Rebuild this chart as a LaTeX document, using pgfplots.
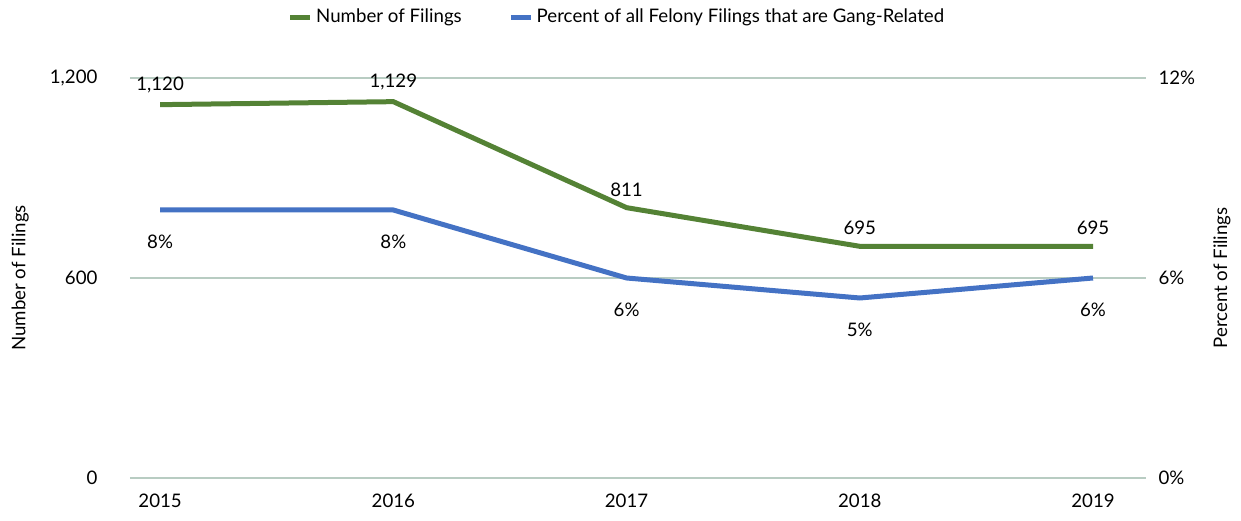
\documentclass[border=0pt]{standalone}
\usepackage{fontspec}
\setmainfont{Lato}
\usepackage{pgfplots}
\pgfplotsset{compat=1.18}

\definecolor{filgreen}{RGB}{84,130,53}
\definecolor{pctblue}{RGB}{68,114,196}
\definecolor{gridc}{RGB}{184,204,194}

\newcommand{\chartfont}{\fontsize{11.2}{13}\selectfont}

\pgfplotsset{
  common/.style={
    scale only axis, width=609.6pt, height=240pt,
    xmin=2014.871, xmax=2019.227,
    xtick={2015,2016,2017,2018,2019},
    x tick label style={/pgf/number format/1000 sep={}},
    axis line style={draw=none}, major tick length=0pt,
    tick label style={font=\chartfont},
    label style={font=\chartfont},
    /pgf/number format/assume math mode=true,
  }
}

\begin{document}
\begin{tikzpicture}
\begin{axis}[common,
  ymin=0, ymax=1200, ytick={0,600,1200},
  yticklabels={0,600,{1,200}},
  ymajorgrids, grid style={gridc, line width=1.2pt},
  yticklabel style={xshift=-16pt},
  xticklabel style={yshift=-6pt},
  ylabel={Number of Filings},
  ylabel style={at={(axis description cs:-0.108,0.5)}, anchor=center},
  legend style={at={(0.48,1.152)}, anchor=center, draw=none, legend columns=2,
    font=\chartfont,
    /tikz/every even column/.append style={column sep=26pt}},
  legend image code/.code={\draw[#1, line width=3pt] (0pt,0pt) -- (12pt,0pt);},
  nodes near coords, point meta=explicit symbolic,
  every node near coord/.append style={font=\chartfont, text=black, yshift=2pt},
]
\addplot[filgreen, line width=3pt, no marks] coordinates {
  (2015,1120) [1,120]
  (2016,1129) [1,129]
  (2017,811) [811]
  (2018,695) [695]
  (2019,695) [695]
};
\addlegendentry{Number of Filings}
\addlegendimage{pctblue, line width=3pt}
\addlegendentry{Percent of all Felony Filings that are Gang-Related}
\end{axis}
\begin{axis}[common,
  ymin=0, ymax=12, ytick={0,6,12},
  yticklabels={0\%,6\%,12\%},
  axis y line*=right, hide x axis,
  yticklabel style={xshift=4pt},
  ylabel={Percent of Filings},
  ylabel style={at={(axis description cs:1.0748,0.5)}, anchor=center},
  nodes near coords, point meta=explicit symbolic,
  every node near coord/.append style={font=\chartfont, text=black, anchor=north, yshift=-10pt},
]
\addplot[pctblue, line width=3pt, no marks] coordinates {
  (2015,8.04) [8\%]
  (2016,8.04) [8\%]
  (2017,6.0) [6\%]
  (2018,5.4) [5\%]
  (2019,6.0) [6\%]
};
\end{axis}
\pgfresetboundingbox
\path[use as bounding box] (-78pt,-25.8pt) rectangle (666.6pt,286.8pt);
\end{tikzpicture}
\end{document}
